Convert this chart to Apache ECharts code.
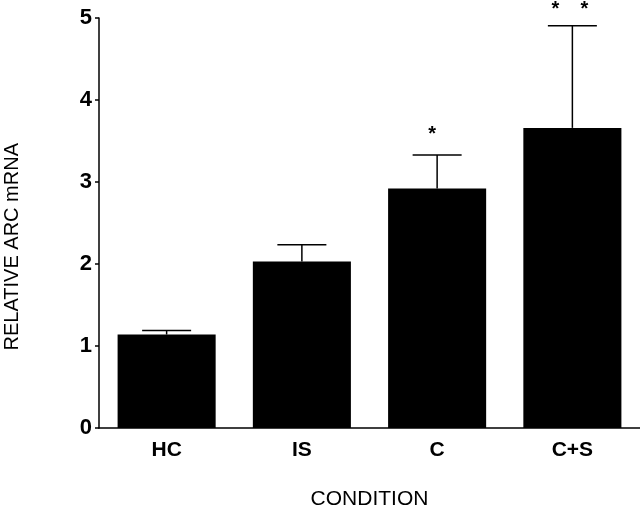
<!DOCTYPE html>
<html><head><meta charset="utf-8">
<script src="https://cdn.jsdelivr.net/npm/echarts@6/dist/echarts.min.js"></script>
<style>html,body{margin:0;padding:0;background:#fff}#c{width:640px;height:510px}</style>
</head><body><div id="c"></div>
<script>
const categories = ['HC', 'IS', 'C', 'C+S'];
const means = [1.14, 2.03, 2.92, 3.66];
const errorTops = [1.19, 2.235, 3.33, 4.905];
const yTicks = [0, 1, 2, 3, 4, 5];
// significance marks: [categoryIndex, value, label, pixelOffsetX]
const sigMarks = [[2, 3.58, '*', -5], [3, 5.1, '*', -17], [3, 5.1, '*', 12]];

const chart = echarts.init(document.getElementById('c'));
const font = 'Liberation Sans, Arial, sans-serif';
chart.setOption({
  animation: false,
  grid: { left: 99, right: 0, top: 18, bottom: 82, outerBoundsMode: 'none', containLabel: false },
  xAxis: {
    type: 'category', data: categories,
    axisLine: { lineStyle: { color: '#000', width: 1.5 } },
    axisTick: { show: false },
    axisLabel: { color: '#000', fontWeight: 'bold', fontSize: 21, fontFamily: font, margin: 12 },
    name: 'CONDITION', nameLocation: 'middle', nameGap: 61,
    nameTextStyle: { color: '#000', fontSize: 21, fontFamily: font }
  },
  yAxis: {
    type: 'value', min: 0, max: 5, interval: 1,
    axisLine: { show: true, lineStyle: { color: '#000', width: 1.5 } },
    axisTick: { show: true, inside: false, length: 4, lineStyle: { color: '#000', width: 1.5 } },
    splitLine: { show: false },
    axisLabel: { color: '#000', fontWeight: 'bold', fontSize: 22, fontFamily: font, margin: 7,
      padding: [5, 0, 0, 0],
      formatter: v => yTicks.includes(v) ? String(v) : '' }
  },
  graphic: [{
    type: 'text', left: 2, top: 143, rotation: Math.PI / 2,
    style: { text: 'RELATIVE ARC mRNA', fill: '#000', fontSize: 20, fontFamily: font }
  }],
  series: [
    {
      type: 'bar', data: means, barWidth: '72.5%',
      itemStyle: { color: '#000' }
    },
    {
      type: 'custom',
      data: categories.map((c, i) => [i, means[i], errorTops[i]]),
      renderItem: (params, api) => {
        const base = api.coord([api.value(0), api.value(1)]);
        const top = api.coord([api.value(0), api.value(2)]);
        const hw = 24.5;
        const st = { stroke: '#000', lineWidth: 1.5 };
        return { type: 'group', children: [
          { type: 'line', shape: { x1: base[0], y1: base[1], x2: top[0], y2: top[1] }, style: st },
          { type: 'line', shape: { x1: top[0] - hw, y1: top[1], x2: top[0] + hw, y2: top[1] }, style: st }
        ]};
      },
      z: 1
    },
    {
      type: 'custom',
      data: sigMarks,
      renderItem: (params, api) => {
        const p = api.coord([api.value(0), api.value(1)]);
        return { type: 'text', x: p[0] + sigMarks[params.dataIndex][3], y: p[1],
          style: { text: sigMarks[params.dataIndex][2], fill: '#000', fontSize: 20, fontWeight: 'bold',
            fontFamily: font, align: 'center', verticalAlign: 'middle' } };
      },
      clip: false
    }
  ]
});
</script></body></html>
